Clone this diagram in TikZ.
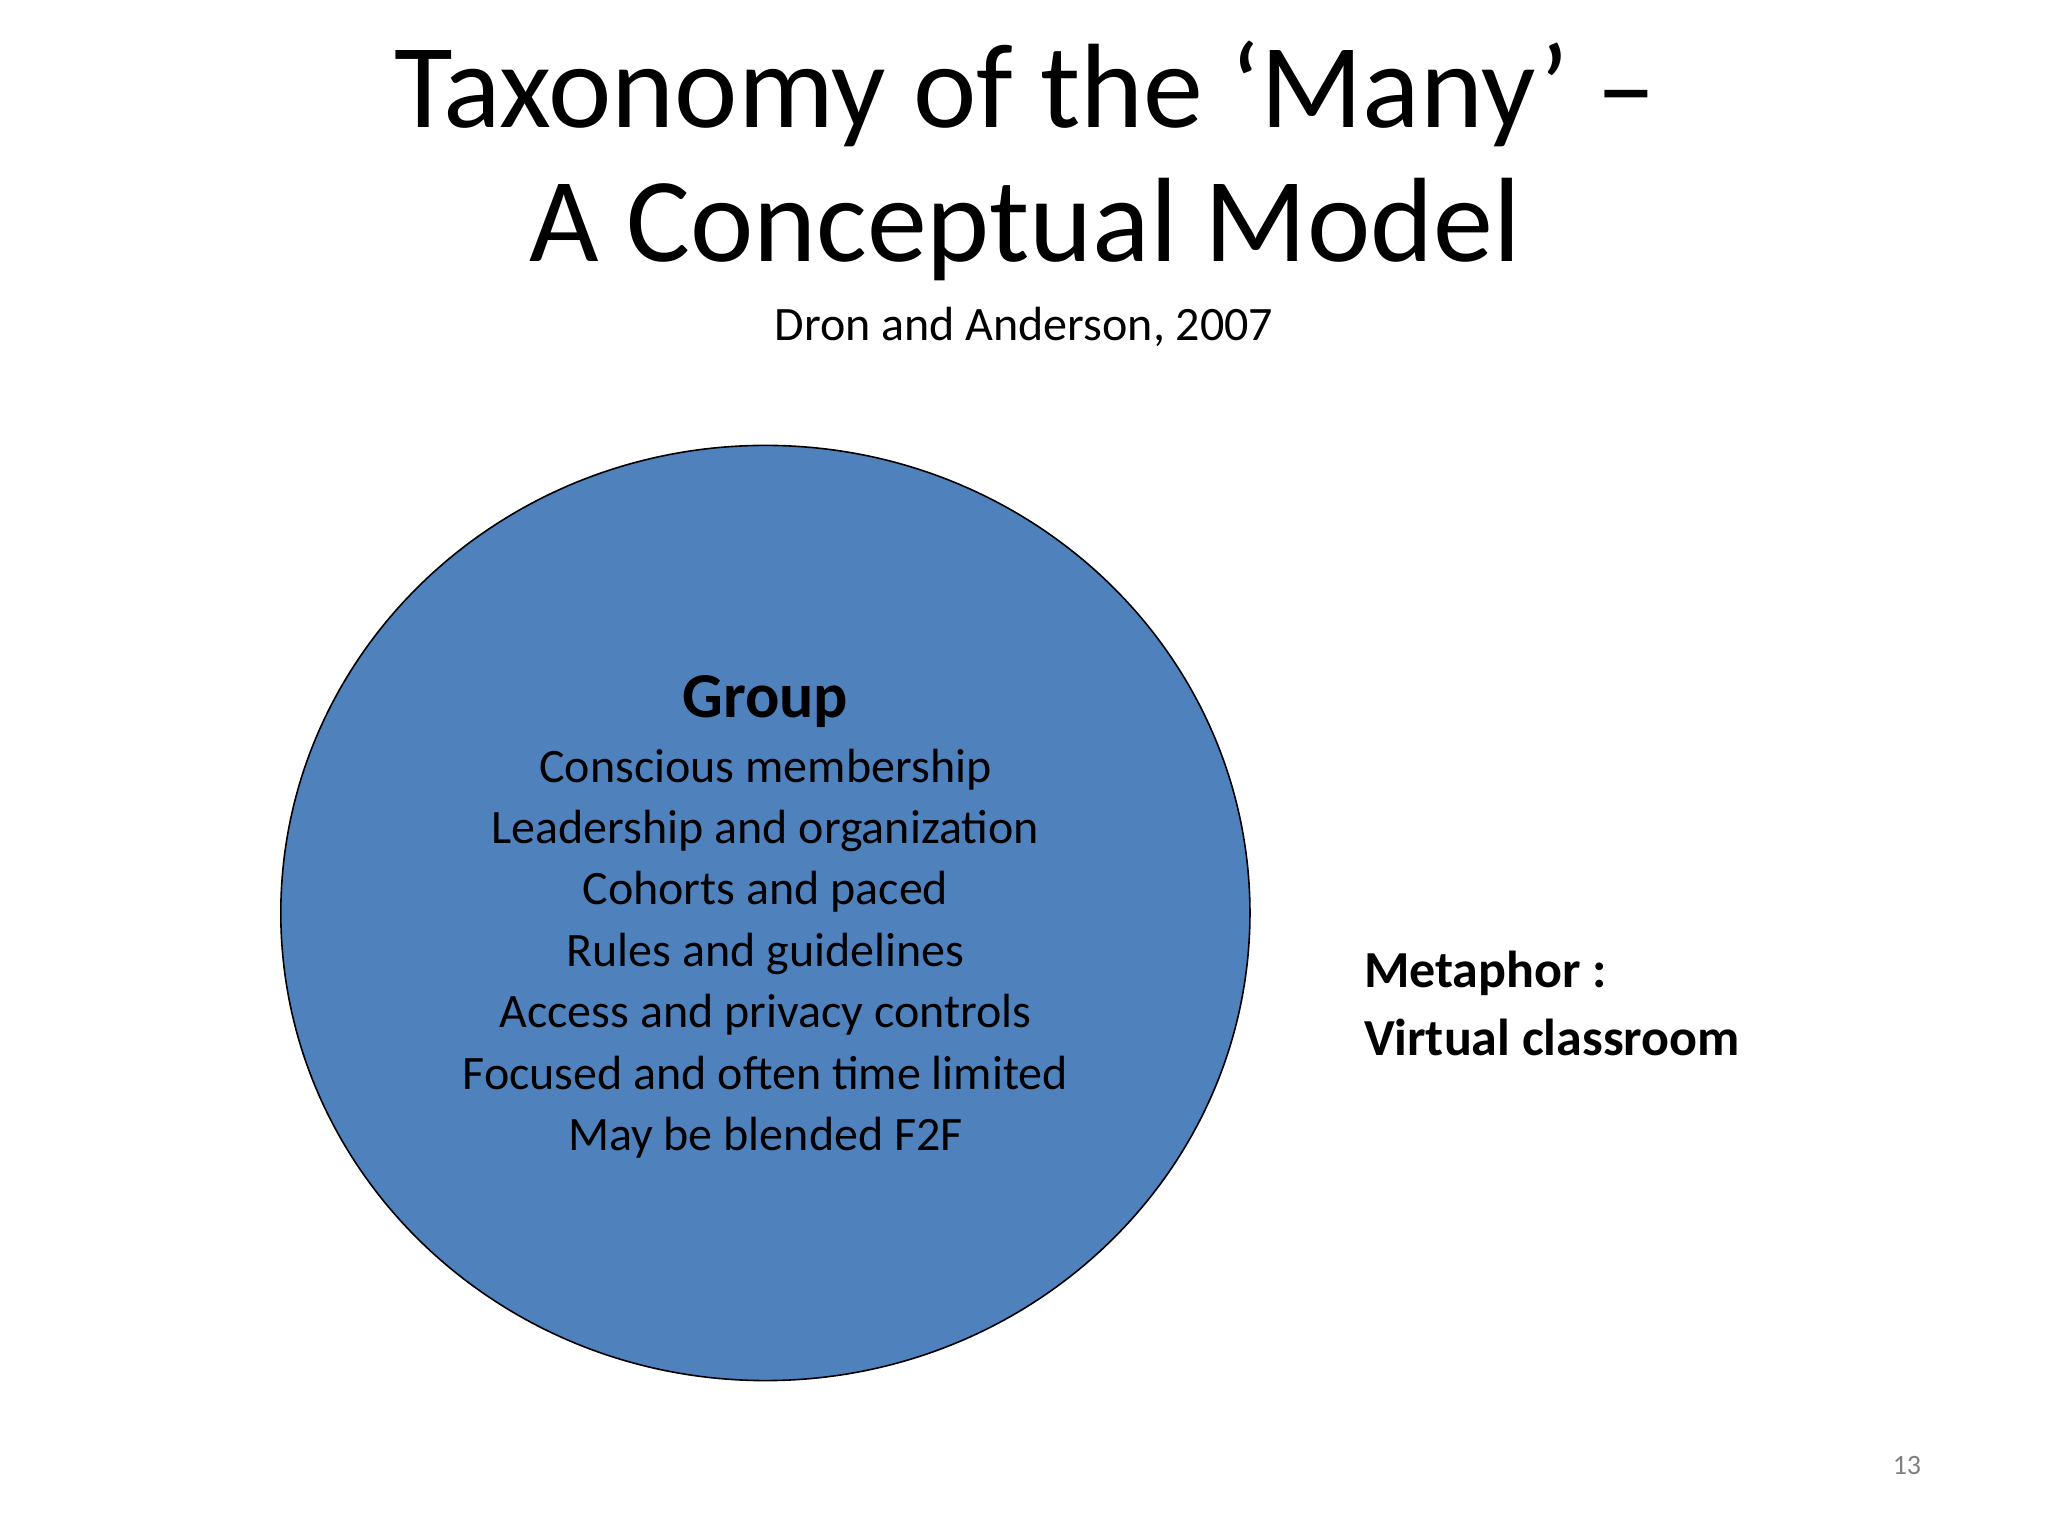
\documentclass[tikz,border=0pt]{standalone}
\usepackage{fontspec}
\setmainfont{Carlito}
\definecolor{grpblue}{HTML}{4F81BD}
\begin{document}
\begin{tikzpicture}[x=0.653pt,y=-0.653pt,
  ttl/.style={font=\fontsize{60}{72}\selectfont,anchor=center,inner sep=0},
  lst/.style={font=\fontsize{24}{30.7}\selectfont,align=center,inner sep=0}]
\useasboundingbox[fill=white] (0,0) rectangle (1568,1176);
\node[ttl] (t1) at (785,72) {Taxonomy of the ‘Many’ –};
\node[ttl] (t2) at (785,176) {A Conceptual Model};
\node[font=\fontsize{24}{28}\selectfont,inner sep=0] (sub) at (784,250) {Dron and Anderson, 2007};
\draw[fill=grpblue,draw=black,line width=0.8pt] (586,699) ellipse [x radius=371,y radius=358];
\node[font=\bfseries\fontsize{32}{38}\selectfont,inner sep=0] (grp) at (586,537) {Group};
\node[lst,anchor=north] (items) at (586,573) {Conscious membership\\Leadership and organization\\Cohorts and paced\\Rules and guidelines\\Access and privacy controls\\Focused and often time limited\\May be blended F2F};
\node[font=\bfseries\fontsize{26}{34}\selectfont,align=left,anchor=north west,inner sep=0] (meta) at (1044,728) {Metaphor :\\Virtual classroom};
\node[font=\fontsize{14}{16}\selectfont,text=gray,inner sep=0] (pg) at (1460,1122) {13};
\end{tikzpicture}
\end{document}
